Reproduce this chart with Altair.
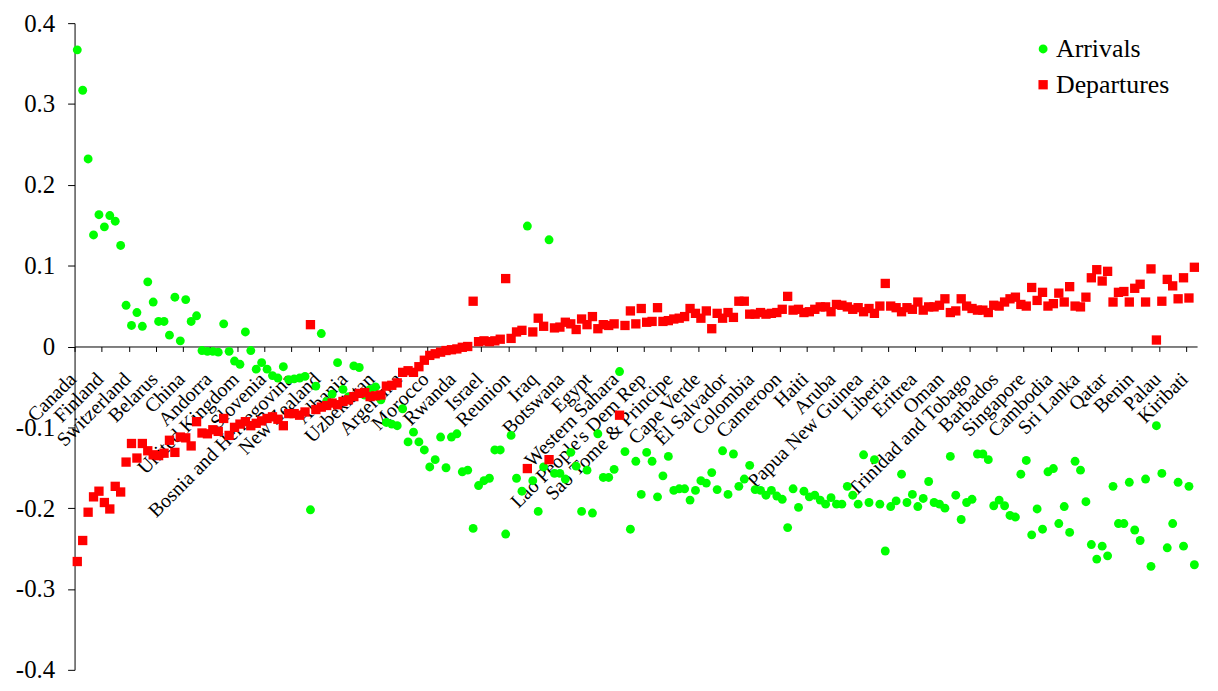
import altair as alt
import pandas as pd

# Arrivals (green circles), one value per country in chart order
arrivals = [
    0.367, 0.317, 0.232, 0.138, 0.163, 0.148, 0.162, 0.155, 0.125, 0.051,
    0.026, 0.042, 0.025, 0.080, 0.055, 0.031, 0.031, 0.014, 0.061, 0.007,
    0.058, 0.031, 0.038, -0.005, -0.006, -0.006, -0.007, 0.028, -0.006, -0.018,
    -0.022, 0.018, -0.005, -0.028, -0.020, -0.028, -0.036, -0.039, -0.025, -0.041,
    -0.040, -0.039, -0.037, -0.202, -0.049, 0.016, -0.068, -0.059, -0.020, -0.053,
    -0.062, -0.024, -0.026, -0.060, -0.053, -0.050, -0.066, -0.094, -0.096, -0.098,
    -0.077, -0.118, -0.106, -0.118, -0.128, -0.149, -0.140, -0.112, -0.150, -0.112,
    -0.108, -0.155, -0.153, -0.225, -0.172, -0.166, -0.163, -0.128, -0.128, -0.232,
    -0.110, -0.163, -0.179, 0.149, -0.166, -0.204, -0.149, 0.132, -0.157, -0.157,
    -0.164, -0.131, -0.148, -0.204, -0.153, -0.206, -0.108, -0.162, -0.162, -0.152,
    -0.031, -0.130, -0.226, -0.142, -0.183, -0.131, -0.142, -0.186, -0.160, -0.136,
    -0.178, -0.176, -0.176, -0.190, -0.178, -0.166, -0.169, -0.156, -0.177, -0.129,
    -0.183, -0.133, -0.173, -0.164, -0.147, -0.177, -0.178, -0.184, -0.178, -0.185,
    -0.189, -0.224, -0.176, -0.199, -0.179, -0.186, -0.184, -0.190, -0.195, -0.187,
    -0.195, -0.195, -0.173, -0.184, -0.195, -0.134, -0.193, -0.140, -0.195, -0.253,
    -0.198, -0.191, -0.158, -0.193, -0.183, -0.198, -0.188, -0.167, -0.193, -0.195,
    -0.200, -0.136, -0.184, -0.214, -0.193, -0.189, -0.133, -0.133, -0.140, -0.197,
    -0.190, -0.197, -0.209, -0.211, -0.158, -0.141, -0.233, -0.201, -0.226, -0.155,
    -0.151, -0.219, -0.198, -0.230, -0.142, -0.153, -0.192, -0.245, -0.263, -0.247,
    -0.259, -0.173, -0.219, -0.219, -0.168, -0.227, -0.240, -0.164, -0.272, -0.098,
    -0.157, -0.249, -0.219, -0.168, -0.247, -0.173, -0.270,
]

# Departures (red squares)
departures = [
    -0.266, -0.240, -0.205, -0.186, -0.179, -0.193, -0.201, -0.173, -0.180, -0.143,
    -0.120, -0.138, -0.120, -0.129, -0.134, -0.135, -0.132, -0.116, -0.131, -0.112,
    -0.113, -0.123, -0.093, -0.107, -0.108, -0.103, -0.105, -0.089, -0.110, -0.100,
    -0.096, -0.093, -0.098, -0.095, -0.092, -0.089, -0.087, -0.090, -0.098, -0.083,
    -0.083, -0.085, -0.081, 0.027, -0.078, -0.075, -0.073, -0.070, -0.072, -0.068,
    -0.066, -0.062, -0.058, -0.057, -0.062, -0.061, -0.060, -0.049, -0.048, -0.045,
    -0.032, -0.030, -0.032, -0.025, -0.017, -0.011, -0.009, -0.007, -0.005, -0.004,
    -0.003, -0.001, 0.000, 0.056, 0.006, 0.007, 0.006, 0.007, 0.009, 0.084,
    0.010, 0.018, 0.020, -0.151, 0.018, 0.035, 0.025, -0.140, 0.023, 0.024,
    0.030, 0.028, 0.021, 0.034, 0.027, 0.037, 0.022, 0.027, 0.026, 0.028,
    -0.085, 0.026, 0.044, 0.028, 0.047, 0.030, 0.031, 0.048, 0.031, 0.032,
    0.034, 0.035, 0.037, 0.047, 0.041, 0.035, 0.044, 0.022, 0.041, 0.035,
    0.042, 0.036, 0.056, 0.056, 0.040, 0.040, 0.042, 0.040, 0.041, 0.042,
    0.046, 0.062, 0.045, 0.046, 0.042, 0.043, 0.046, 0.049, 0.049, 0.043,
    0.052, 0.051, 0.049, 0.046, 0.048, 0.043, 0.047, 0.041, 0.050, 0.078,
    0.050, 0.048, 0.043, 0.048, 0.046, 0.055, 0.045, 0.049, 0.049, 0.051,
    0.059, 0.042, 0.044, 0.059, 0.050, 0.047, 0.045, 0.045, 0.042, 0.051,
    0.050, 0.055, 0.059, 0.061, 0.052, 0.050, 0.073, 0.057, 0.067, 0.050,
    0.053, 0.066, 0.055, 0.074, 0.050, 0.049, 0.061, 0.085, 0.095, 0.081,
    0.093, 0.055, 0.067, 0.068, 0.055, 0.072, 0.077, 0.055, 0.096, 0.008,
    0.056, 0.083, 0.075, 0.059, 0.085, 0.060, 0.098,
]

# Category labels shown on the axis (every 5th country)
label_names = [
    "Canada", "Finland", "Switzerland", "Belarus", "China", "Andorra",
    "United Kingdom", "Slovenia", "Bosnia and Herzegovina", "New Zealand",
    "Albania", "Uzbekistan", "Argentina", "Morocco", "Rwanda", "Israel",
    "Reunion", "Iraq", "Botswana", "Egypt", "Western Sahara",
    "Lao People's Dem Rep", "Sao Tome & Principe", "Cape Verde", "El Salvador",
    "Colombia", "Cameroon", "Haiti", "Aruba", "Papua New Guinea", "Liberia",
    "Eritrea", "Oman", "Trinidad and Tobago", "Barbados", "Singapore",
    "Cambodia", "Sri Lanka", "Qatar", "Benin", "Palau", "Kiribati",
]
label_step = 5

series_names = ["Arrivals", "Departures"]
y_ticks = [-0.4, -0.3, -0.2, -0.1, 0.0, 0.1, 0.2, 0.3, 0.4]

n = len(arrivals)
rows = []
for i, v in enumerate(arrivals):
    rows.append({"pos": i + 0.5, "value": v, "series": series_names[0]})
for i, v in enumerate(departures):
    rows.append({"pos": i + 0.5, "value": v, "series": series_names[1]})
df = pd.DataFrame(rows)

lab_df = pd.DataFrame({
    "pos": [k * label_step + 0.5 for k in range(len(label_names))],
    "value": [0.0] * len(label_names),
    "name": label_names,
})

W, H = 1130, 651
FONT = "Liberation Serif"

x_enc = alt.X(
    "pos:Q",
    scale=alt.Scale(domain=[0, n], nice=False, zero=False),
    axis=alt.Axis(
        values=list(range(0, n, label_step)), labels=False, grid=False,
        domainColor="black", tickColor="black", tickSize=5, offset=-H / 2,
        title=None,
    ),
)
y_enc = alt.Y(
    "value:Q",
    scale=alt.Scale(domain=[-0.4, 0.4], nice=False, zero=False),
    axis=alt.Axis(
        values=y_ticks, grid=False, domainColor="black", tickColor="black",
        tickSize=7, labelFont=FONT, labelFontSize=25, labelColor="black",
        labelPadding=13, title=None,
        labelExpr="abs(datum.value) < 1e-9 ? '0' : (datum.value < 0 ? '-' : '') + format(abs(datum.value), '.1f')",
    ),
)

legend = alt.Legend(
    title=None, orient="none", legendX=962, legendY=13, labelFont=FONT,
    labelFontSize=26, labelColor="black", symbolSize=75, rowPadding=10,
    labelOffset=0, padding=0, symbolStrokeWidth=0,
)

labels = alt.Chart(lab_df).mark_text(
    angle=315, align="right", baseline="middle", font=FONT, fontSize=20,
    color="black", xOffset=-4, yOffset=30,
).encode(x=x_enc, y=y_enc, text="name:N")

points = alt.Chart(df).mark_point(filled=True, opacity=1, strokeWidth=0).encode(
    x=x_enc,
    y=y_enc,
    color=alt.Color("series:N", scale=alt.Scale(domain=series_names, range=["#00ff00", "#ff0000"]), legend=legend),
    shape=alt.Shape("series:N", scale=alt.Scale(domain=series_names, range=["circle", "square"]), legend=legend),
    size=alt.Size("series:N", scale=alt.Scale(domain=series_names, range=[80, 88]), legend=None),
)

chart = alt.layer(labels, points).properties(
    width=W, height=H,
    autosize=alt.AutoSizeParams(type="none"),
    padding={"left": 67, "top": 13, "right": 13, "bottom": 11},
    background="white",
).configure_view(stroke=None).configure_axis(
    labelFont=FONT, labelColor="black"
).configure_text(font=FONT).configure_legend(labelFont=FONT)

chart.save("out.html", embed_options={"renderer": "svg", "actions": False})
